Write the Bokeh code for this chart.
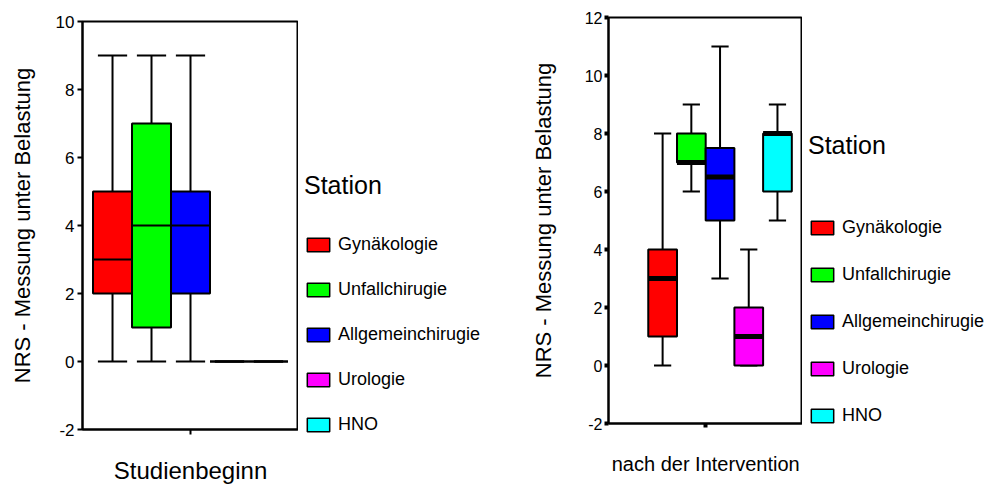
from bokeh.plotting import figure
from bokeh.models import (ColumnDataSource, Range1d, FixedTicker, Legend, LegendItem)
from bokeh.layouts import row
from bokeh.embed import file_html
from bokeh.resources import INLINE

stations = ["Gynäkologie", "Unfallchirugie", "Allgemeinchirugie", "Urologie", "HNO"]
colors = ["#ff0000", "#00ff00", "#0000ff", "#ff00ff", "#00ffff"]

# Studienbeginn
pre_min = [0, 0, 0, 0, 0]
pre_q1 = [2, 1, 2, 0, 0]
pre_med = [3, 4, 4, 0, 0]
pre_q3 = [5, 7, 5, 0, 0]
pre_max = [9, 9, 9, 0, 0]

# nach der Intervention
post_min = [0, 6, 3, 0, 5]
post_q1 = [1, 7, 5, 0, 6]
post_med = [3, 7, 6.5, 1, 8]
post_q3 = [4, 8, 7.5, 2, 8]
post_max = [8, 9, 11, 4, 9]

y_label = "NRS - Messung unter Belastung"
FONT = "Liberation Sans"


def make_source(mn, q1, med, q3, mx, cap_w):
    pos = [i - 2 for i in range(len(stations))]
    return ColumnDataSource(dict(
        x=pos,
        left=[x - 0.5 for x in pos], right=[x + 0.5 for x in pos],
        cl=[x - cap_w / 2 for x in pos], cr=[x + cap_w / 2 for x in pos],
        mn=mn, q1=q1, med=med, q3=q3, mx=mx, color=colors, name=stations))


def make_chart(src, title_x, yr, yticks, xr, xtick, width, borders, med_w,
               tick_fs, xlab_fs, xlab_standoff, ylab_standoff, tick_style):
    bl, br, bt, bb = borders
    p = figure(width=width, height=486, x_range=Range1d(*xr), y_range=Range1d(*yr),
               output_backend="svg", toolbar_location=None, frame_align=False,
               min_border_left=bl, min_border_right=br, min_border_top=bt,
               min_border_bottom=bb)
    p.grid.visible = False
    p.outline_line_color = "black"
    p.outline_line_width = 2
    p.background_fill_color = "white"
    p.border_fill_color = "white"

    p.segment(x0="x", y0="q3", x1="x", y1="mx", source=src, line_color="black", line_width=2)
    p.segment(x0="x", y0="q1", x1="x", y1="mn", source=src, line_color="black", line_width=2)
    p.segment(x0="cl", y0="mx", x1="cr", y1="mx", source=src, line_color="black", line_width=2)
    p.segment(x0="cl", y0="mn", x1="cr", y1="mn", source=src, line_color="black", line_width=2)
    p.quad(left="left", right="right", bottom="q1", top="q3", source=src,
           fill_color="color", line_color="black", line_width=2)
    p.segment(x0="left", y0="med", x1="right", y1="med", source=src,
              line_color="black", line_width=med_w)

    ax = p.yaxis[0]
    ax.ticker = FixedTicker(ticks=yticks)
    ax.major_label_overrides = {t: str(t) for t in yticks}
    ax.minor_tick_line_color = None
    ax.major_label_text_font = FONT
    ax.major_label_text_font_size = tick_fs
    ax.axis_line_width = 2
    ax.axis_label = y_label
    ax.axis_label_text_font = FONT
    ax.axis_label_text_font_size = "22px"
    ax.axis_label_text_font_style = "normal"
    ax.axis_label_standoff = ylab_standoff

    xa = p.xaxis[0]
    xa.ticker = FixedTicker(ticks=[xtick])
    xa.minor_tick_line_color = None
    xa.major_label_overrides = {xtick: title_x}
    xa.major_label_text_font = FONT
    xa.major_label_text_font_size = xlab_fs
    xa.axis_line_width = 2

    for a in (ax, xa):
        a.major_tick_in = 0
        a.major_tick_out = tick_style[0]
        a.major_tick_line_width = tick_style[1]
        a.major_label_standoff = tick_style[2]
        a.major_label_text_color = "black"
        a.axis_label_text_color = "black"
        a.axis_line_color = "black"
        a.major_tick_line_color = "black"
    xa.major_label_standoff = xlab_standoff
    return p


def make_legend(src, width, loc, title_standoff, spacing):
    p = figure(width=width, height=486, x_range=Range1d(100, 101), y_range=Range1d(100, 101),
               output_backend="svg", toolbar_location=None, frame_align=False,
               x_axis_location=None, y_axis_location=None,
               min_border_left=0, min_border_right=0, min_border_top=0, min_border_bottom=0)
    p.grid.visible = False
    p.outline_line_color = None
    boxes = p.quad(left="left", right="right", bottom="q1", top="q3", source=src,
                   fill_color="color", line_color="black", line_width=1.5)
    items = [LegendItem(label=s, renderers=[boxes], index=i) for i, s in enumerate(stations)]
    leg = Legend(items=items, location=loc, title="Station",
                 title_text_font=FONT, title_text_font_size="25px",
                 title_text_font_style="normal", title_standoff=title_standoff,
                 title_text_color="black",
                 label_text_font=FONT, label_text_font_size="18px",
                 label_text_color="black",
                 glyph_width=28, glyph_height=17, label_height=17,
                 label_standoff=6, spacing=spacing, padding=0, margin=0,
                 border_line_color=None, background_fill_alpha=0)
    p.add_layout(leg)
    return p


src1 = make_source(pre_min, pre_q1, pre_med, pre_q3, pre_max, 0.75)
src2 = make_source(post_min, post_q1, post_med, post_q3, post_max, 0.6)

p1 = make_chart(src1, "Studienbeginn", (-2, 10), [-2, 0, 2, 4, 6, 8, 10],
                (-2.77, 2.77), 0, 298, (82, 0, 21, 56), 2, "17px",
                "24px", 22, 18, (5, 2, 3))
l1 = make_legend(src1, 229, (6, 51), 34, 24)
p2 = make_chart(src2, "nach der Intervention", (-2, 12), [-2, 0, 2, 4, 6, 8, 10, 12],
                (-3.885, 2.872), -0.5, 275, (75, 0, 17, 63), 5, "16px",
                "20px", 25, 26, (4, 4, 2))
l2 = make_legend(src2, 186, (6, 60), 57, 26)

layout = row(p1, l1, p2, l2)
open("out.html", "w").write(file_html(layout, INLINE))
